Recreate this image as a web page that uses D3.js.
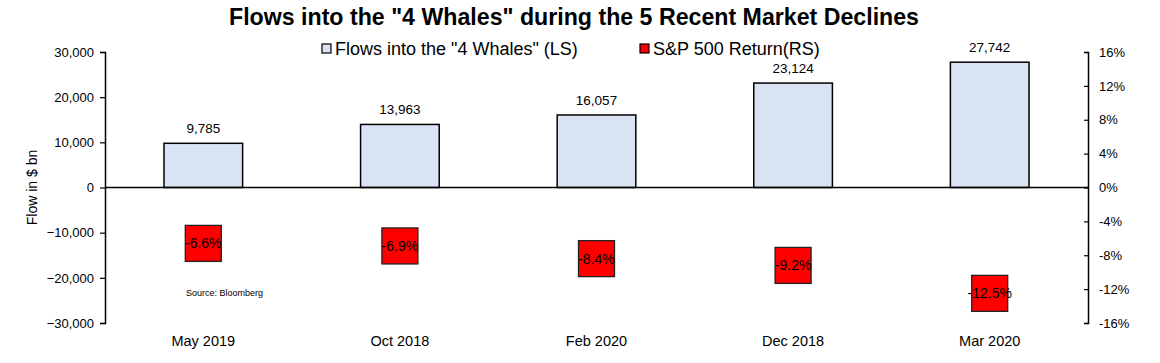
<!DOCTYPE html>
<html>
<head>
<meta charset="utf-8">
<script src="https://cdn.jsdelivr.net/npm/d3@7"></script>
<style>
  body { margin: 0; background: #fff; }
  text { font-family: "Liberation Sans", Arial, sans-serif; fill: #000; }
</style>
</head>
<body>
<svg id="chart" width="1160" height="363"></svg>
<script>
// data
const categories = ["May 2019", "Oct 2018", "Feb 2020", "Dec 2018", "Mar 2020"];
const flows = [9785, 13963, 16057, 23124, 27742];
const returns = [-6.6, -6.9, -8.4, -9.2, -12.5];
const leftTicks = [30000, 20000, 10000, 0, -10000, -20000, -30000];
const rightTicks = [16, 12, 8, 4, 0, -4, -8, -12, -16];

const width = 1160, height = 363;
const margin = { left: 105, right: 72, top: 52, bottom: 40 };
const plotRight = width - margin.right;
const plotBottom = height - margin.bottom;

const svg = d3.select("#chart");

const x = d3.scaleBand()
    .domain(categories)
    .range([margin.left, plotRight])
    .paddingInner(0.6)
    .paddingOuter(0.3);

const yL = d3.scaleLinear().domain([-30000, 30000]).range([plotBottom, margin.top]);
const yR = d3.scaleLinear().domain([-16, 16]).range([plotBottom, margin.top]);

// title (a bit condensed in the original)
svg.append("text")
    .attr("x", 574).attr("y", 25)
    .attr("text-anchor", "middle")
    .attr("textLength", 690)
    .attr("lengthAdjust", "spacingAndGlyphs")
    .style("font-size", "24px")
    .style("font-weight", "bold")
    .text('Flows into the "4 Whales" during the 5 Recent Market Declines');

// legend
const legend = [
    { label: 'Flows into the "4 Whales" (LS)', fill: "#dae3f3", x: 322 },
    { label: "S&P 500 Return(RS)", fill: "#ff0000", x: 640 }
];
const lg = svg.append("g").selectAll("g").data(legend).join("g")
    .attr("transform", d => `translate(${d.x},0)`);
lg.append("rect")
    .attr("x", 0).attr("y", 44).attr("width", 9).attr("height", 9)
    .attr("fill", d => d.fill).attr("stroke", "#000").attr("stroke-width", 1.2);
lg.append("text")
    .attr("x", 13).attr("y", 55)
    .style("font-size", "18px")
    .text(d => d.label);

// left axis
const axL = svg.append("g")
    .attr("transform", `translate(${margin.left},0)`)
    .call(d3.axisLeft(yL).tickValues(leftTicks).tickSize(5).tickPadding(6)
        .tickFormat(d3.format(",")));
axL.select(".domain").attr("stroke-width", 1.5);
axL.selectAll(".tick line").attr("stroke-width", 1.2);
axL.selectAll("text").style("font-size", "13px").style("font-family", "Liberation Sans, Arial, sans-serif");

// right axis, ticks drawn inward
const axR = svg.append("g")
    .attr("transform", `translate(${plotRight},0)`)
    .call(d3.axisRight(yR).tickValues(rightTicks).tickSizeInner(-4).tickSizeOuter(-4).tickPadding(11)
        .tickFormat(d => d + "%"));
axR.select(".domain").attr("stroke-width", 1.5);
axR.selectAll(".tick line").attr("stroke-width", 1.2);
axR.selectAll("text").style("font-size", "13px").style("font-family", "Liberation Sans, Arial, sans-serif");

// y axis title
svg.append("text")
    .attr("transform", `translate(37,${yL(0)}) rotate(-90)`)
    .attr("text-anchor", "middle")
    .style("font-size", "14px")
    .text("Flow in $ bn");

// bars
svg.append("g").selectAll("rect").data(flows).join("rect")
    .attr("x", (d, i) => x(categories[i]))
    .attr("y", d => yL(d))
    .attr("width", x.bandwidth())
    .attr("height", d => yL(0) - yL(d))
    .attr("fill", "#dae3f3")
    .attr("stroke", "#000")
    .attr("stroke-width", 1.5);

svg.append("g").selectAll("text").data(flows).join("text")
    .attr("x", (d, i) => x(categories[i]) + x.bandwidth() / 2)
    .attr("y", d => yL(d) - 10)
    .attr("text-anchor", "middle")
    .style("font-size", "13.5px")
    .text(d => d3.format(",")(d));

// zero line
svg.append("line")
    .attr("x1", margin.left).attr("x2", plotRight)
    .attr("y1", yL(0)).attr("y2", yL(0))
    .attr("stroke", "#000").attr("stroke-width", 1.3);

// return markers
const ms = 36;
svg.append("g").selectAll("rect").data(returns).join("rect")
    .attr("x", (d, i) => x(categories[i]) + x.bandwidth() / 2 - ms / 2)
    .attr("y", d => yR(d) - ms / 2)
    .attr("width", ms).attr("height", ms)
    .attr("fill", "#ff0000")
    .attr("stroke", "#222")
    .attr("stroke-width", 1.3);

svg.append("g").selectAll("text").data(returns).join("text")
    .attr("x", (d, i) => x(categories[i]) + x.bandwidth() / 2)
    .attr("y", d => yR(d) + 5)
    .attr("text-anchor", "middle")
    .style("font-size", "14px")
    .text(d => d.toFixed(1) + "%");

// category labels
svg.append("g").selectAll("text").data(categories).join("text")
    .attr("x", d => x(d) + x.bandwidth() / 2)
    .attr("y", 346)
    .attr("text-anchor", "middle")
    .style("font-size", "14.5px")
    .text(d => d);

// source
svg.append("text")
    .attr("x", 186).attr("y", 296)
    .style("font-size", "9px")
    .text("Source: Bloomberg");
</script>
</body>
</html>
